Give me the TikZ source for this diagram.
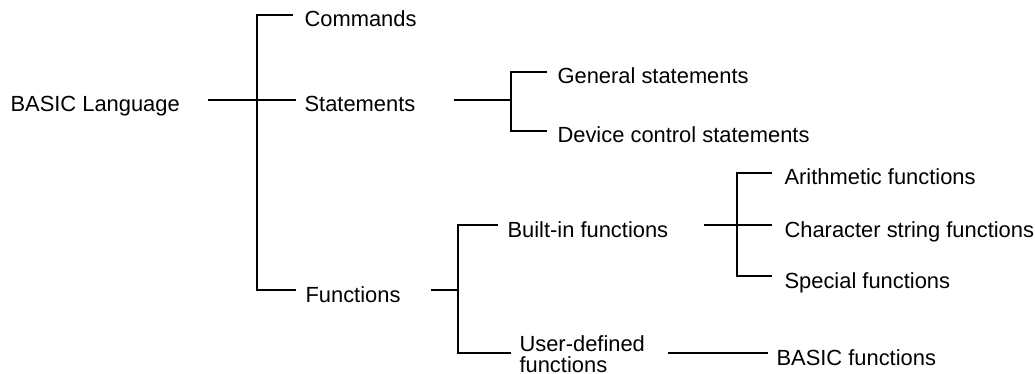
\documentclass[tikz,border=0pt]{standalone}
\usepackage{fontspec}
\setmainfont{Liberation Sans}
\usetikzlibrary{positioning}

\begin{document}
\begin{tikzpicture}[
    x=1pt, y=-1pt,
    line width=1.1pt,
    lbl/.style={anchor=west, inner sep=0pt, text height=24pt, text depth=0pt,
      font=\fontsize{21.9}{26}\selectfont},
    lbltwo/.style={anchor=west, inner sep=0pt, align=left,
      font=\fontsize{21.9}{20.5}\selectfont},
]
\useasboundingbox (0,0) rectangle (1035,374);

% labels
\node[lbl] (lang)  at (10,100)  {BASIC Language};
\node[lbl] (cmd)   at (304,15)  {Commands};
\node[lbl] (stmt)  at (304,100) {Statements};
\node[lbl] (func)  at (305,290) {Functions};
\node[lbl] (gen)   at (557,72)  {General statements};
\node[lbl] (dev)   at (557,131) {Device control statements};
\node[lbl] (bif)   at (507,225) {Built-in functions};
\node[lbltwo] (udf) at (519,354) {User-defined\\functions};
\node[lbl] (arith) at (784,173) {Arithmetic functions};
\node[lbl] (chars) at (784,225) {Character string functions};
\node[lbl] (spec)  at (784,276) {Special functions};
\node[lbl] (bfn)   at (776,353) {BASIC functions};

% bracket joints
\coordinate (j1) at (257,100);
\coordinate (j2) at (511,100);
\coordinate (j3) at (458,290);
\coordinate (j4) at (737,225);

\draw ([xshift=28pt]lang.east) -- ([xshift=-8pt]stmt.west);
\draw ([xshift=-11pt]cmd.west) -| (j1) |- ([xshift=-9pt]func.west);

\draw ([xshift=38pt]stmt.east) -- (j2);
\draw ([xshift=-10pt]gen.west) -| (j2) |- ([xshift=-10pt]dev.west);

\draw ([xshift=30pt]func.east) -- (j3);
\draw ([xshift=-9pt]bif.west) -| (j3) |- ([xshift=-8pt,yshift=1pt]udf.west);

\draw ([xshift=35pt]bif.east) -- ([xshift=-12pt]chars.west);
\draw ([xshift=-12pt]arith.west) -| (j4) |- ([xshift=-12pt]spec.west);

\draw ([xshift=23pt]udf.east |- bfn.west) -- ([xshift=-8pt]bfn.west);
\end{tikzpicture}
\end{document}
